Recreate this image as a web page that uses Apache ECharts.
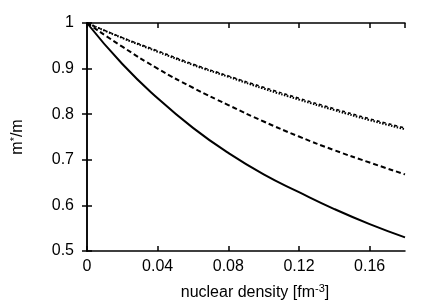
<!DOCTYPE html>
<html>
<head>
<meta charset="utf-8">
<script src="https://cdn.jsdelivr.net/npm/echarts@6/dist/echarts.min.js"></script>
<style>html,body{margin:0;padding:0;background:#fff;}#c{width:436px;height:306px;}</style>
</head>
<body>
<div id="c"></div>
<script>
var densities = [0, 0.02, 0.04, 0.06, 0.08, 0.10, 0.12, 0.14, 0.16, 0.18];
var solidVals = [1, 0.910, 0.835, 0.770, 0.715, 0.668, 0.629, 0.592, 0.559, 0.530];
var dashedVals = [1, 0.948, 0.900, 0.858, 0.820, 0.784, 0.751, 0.721, 0.694, 0.668];
var dottedVals = [1, 0.967, 0.937, 0.908, 0.882, 0.856, 0.832, 0.809, 0.787, 0.767];
var shortDashVals = [1, 0.968, 0.939, 0.910, 0.884, 0.859, 0.835, 0.812, 0.790, 0.770];
var xTicks = [0, 0.04, 0.08, 0.12, 0.16];
var yTicks = [0.5, 0.6, 0.7, 0.8, 0.9, 1];

function pairs(vals){ return densities.map(function(x,i){ return [x, vals[i]]; }); }
var font = 'Liberation Sans, Arial, sans-serif';
var chart = echarts.init(document.getElementById('c'), null, {renderer:'canvas'});
function yLabel(v){ return v === 1 ? '1' : v.toFixed(1); }
var lineBase = {type:'line', showSymbol:false, smooth:true, animation:false};
chart.setOption({
  animation:false,
  grid:{left:87, right:31, top:23, bottom:52},
  xAxis:[{
    type:'value', min:0, max:0.18, interval:0.04,
    axisLine:{lineStyle:{color:'#000', width:1.5}},
    axisTick:{inside:true, length:5, lineStyle:{color:'#000', width:1.5}},
    splitLine:{show:false},
    axisLabel:{color:'#000', fontFamily:font, fontSize:16, margin:8, showMaxLabel:false, formatter:function(v){return v===0?'0':String(+v.toFixed(2));}},
    name:'{n|nuclear density [fm}{s|-3}{n|]}',
    nameLocation:'middle', nameGap:32,
    nameTextStyle:{padding:[0,0,0,18], rich:{n:{fontFamily:font, fontSize:16, color:'#000'}, s:{fontFamily:font, fontSize:11, color:'#000', verticalAlign:'bottom', padding:[0,0,9,0]}}}
  },{
    type:'value', position:'top', min:0, max:0.18, interval:0.04,
    axisLine:{show:true, lineStyle:{color:'#000', width:1.5}},
    axisTick:{show:true, inside:true, length:5, lineStyle:{color:'#000', width:1.5}},
    axisLabel:{show:false}, splitLine:{show:false}
  }],
  yAxis:[{
    type:'value', min:0.5, max:1, interval:0.1,
    axisLine:{show:true, lineStyle:{color:'#000', width:1.5}},
    axisTick:{show:true, inside:true, length:5, lineStyle:{color:'#000', width:1.5}},
    splitLine:{show:false},
    axisLabel:{color:'#000', fontFamily:font, fontSize:16, margin:13, formatter:yLabel},
    name:'{n|m}{s|*}{n|/m}', nameLocation:'middle', nameGap:60, nameRotate:90,
    nameTextStyle:{rich:{n:{fontFamily:font, fontSize:16, color:'#000'}, s:{fontFamily:font, fontSize:11, color:'#000', verticalAlign:'bottom', padding:[0,0,7,0]}}}
  },{
    type:'value', position:'right', min:0.5, max:1, interval:0.1,
    axisLine:{show:true, lineStyle:{color:'#000', width:1.5}},
    axisTick:{show:true, inside:true, length:5, lineStyle:{color:'#000', width:1.5}},
    axisLabel:{show:false}, splitLine:{show:false}
  }],
  series:[
    Object.assign({}, lineBase, {name:'solid', data:pairs(solidVals), lineStyle:{color:'#000', width:2, type:'solid'}}),
    Object.assign({}, lineBase, {name:'dashed', data:pairs(dashedVals), lineStyle:{color:'#000', width:2, type:[5,3]}}),
    Object.assign({}, lineBase, {name:'dotted', data:pairs(dottedVals), lineStyle:{color:'#000', width:2, type:[1.5,1.5]}}),
    Object.assign({}, lineBase, {name:'shortdash', data:pairs(shortDashVals), lineStyle:{color:'#000', width:1.5, type:[3,3]}})
  ]
});
</script>
</body>
</html>
